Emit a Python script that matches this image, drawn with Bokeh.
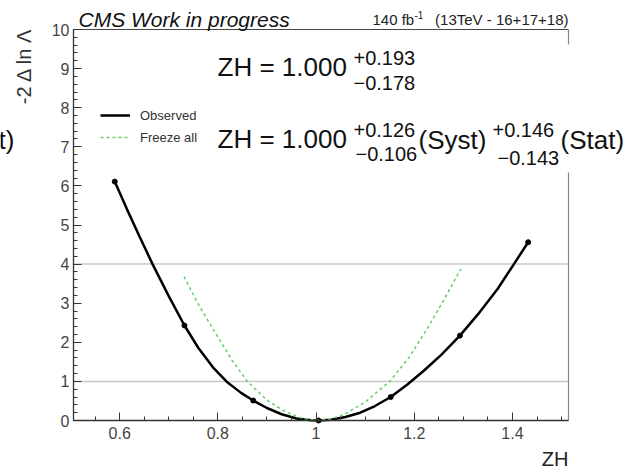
import math
from bokeh.plotting import figure
from bokeh.models import Label, FixedTicker, Legend
from bokeh.embed import file_html
from bokeh.resources import INLINE

# ---------------- data ----------------
scan_x = [0.590, 0.732, 0.872, 1.005, 1.152, 1.293, 1.432]
scan_y = [6.11, 2.43, 0.51, 0.00, 0.60, 2.17, 4.56]

obs_x = [0.590, 0.615, 0.640, 0.667, 0.700, 0.732, 0.760, 0.790, 0.820, 0.848,
         0.872, 0.900, 0.930, 0.960, 0.990, 1.005, 1.030, 1.060, 1.090, 1.120,
         1.152, 1.186, 1.220, 1.255, 1.293, 1.330, 1.370, 1.403, 1.432]
obs_y = [6.11, 5.40, 4.72, 4.00, 3.18, 2.43, 1.86, 1.36, 0.97, 0.70,
         0.51, 0.32, 0.16, 0.05, 0.005, 0.00, 0.02, 0.09, 0.20, 0.37,
         0.60, 0.92, 1.28, 1.68, 2.17, 2.72, 3.37, 4.00, 4.56]

frz_x = [0.731, 0.760, 0.792, 0.830, 0.860, 0.900, 0.935, 0.970, 1.000, 1.030,
         1.057, 1.100, 1.150, 1.190, 1.227, 1.260, 1.295]
frz_y = [3.68, 2.98, 2.30, 1.52, 1.00, 0.52, 0.24, 0.06, 0.00, 0.04,
         0.15, 0.47, 1.00, 1.62, 2.36, 3.08, 3.88]

x_ticks = [0.6, 0.8, 1.0, 1.2, 1.4]
x_tick_labels = ["0.6", "0.8", "1", "1.2", "1.4"]
y_ticks = [0, 1, 2, 3, 4, 5, 6, 7, 8, 9, 10]
ref_levels = [1, 4]

# ---------------- geometry (pixel <-> data) ----------------
W, H = 630, 472
AX_L, AX_R, AX_T, AX_B = 73, 568, 29, 420   # visible axes box in pixels
X0 = 0.506          # data x at the left axis
PXU = 491.0         # pixels per unit of x
YPU = 39.1          # pixels per unit of y


def X(px):
    return X0 + (px - AX_L) / PXU


def Y(py):
    return (AX_B - py) / YPU


FONT = "Liberation Sans"

# the frame covers the whole canvas, the axes are pinned at the box edges
p = figure(width=W, height=H, x_range=(X(0), X(W)), y_range=(Y(H), Y(0)),
           output_backend="svg", toolbar_location=None,
           min_border=0, min_border_left=0, min_border_right=0,
           min_border_top=0, min_border_bottom=0)
p.outline_line_color = None
p.xgrid.visible = False
p.ygrid.visible = False
p.background_fill_color = "white"
p.border_fill_color = "white"

XR = X(AX_R)
x_minor = [round(0.55 + 0.05 * i, 2) for i in range(20) if 0.55 + 0.05 * i < XR]
y_minor = [round(0.2 * i, 1) for i in range(51)]

xa = p.xaxis[0]
ya = p.yaxis[0]
xa.fixed_location = 0
ya.fixed_location = X0
xa.bounds = (X0, XR)
ya.bounds = (0, 10)
xa.ticker = FixedTicker(ticks=x_ticks, minor_ticks=x_minor)
xa.major_label_overrides = {t: s for t, s in zip(x_ticks, x_tick_labels)}
ya.ticker = FixedTicker(ticks=y_ticks, minor_ticks=y_minor)

for ax in (xa, ya):
    ax.major_tick_in = 8
    ax.major_tick_out = 0
    ax.minor_tick_in = 4
    ax.minor_tick_out = 0
    ax.axis_line_color = "#333333"
    ax.axis_line_width = 1.3
    ax.major_tick_line_color = "#333333"
    ax.minor_tick_line_color = "#333333"
    ax.major_label_text_font = FONT
    ax.major_label_text_font_size = "16px"
    ax.major_label_text_color = "#444444"
xa.major_label_standoff = 6
ya.major_label_standoff = 4

# reference levels
p.segment(x0=[X0] * len(ref_levels), y0=ref_levels,
          x1=[XR] * len(ref_levels), y1=ref_levels,
          line_color="#c8c8c8", line_width=1.5)

# frame top / right (right edge partly hidden behind the text box)
p.segment(x0=[X0], y0=[10], x1=[XR], y1=[10], line_color="#444444", line_width=1.2)
p.segment(x0=[XR, XR], y0=[10, Y(172)], x1=[XR, XR], y1=[Y(44), 0],
          line_color="#888888", line_width=1.2)

r_obs = p.line(obs_x, obs_y, line_color="black", line_width=2.5)
p.scatter(scan_x, scan_y, size=5, color="black")
r_frz = p.line(frz_x, frz_y, line_color="#66cc66", line_width=1.5, line_dash="3 3")

legend = Legend(items=[("Observed", [r_obs]), ("Freeze all", [r_frz])],
                location=(100, H - 147), border_line_color=None,
                background_fill_alpha=0, padding=0, margin=0, spacing=2,
                glyph_width=30, glyph_height=20, label_standoff=10,
                label_text_font=FONT, label_text_font_size="13px",
                label_text_color="#333333")
p.add_layout(legend)


def lab(text, px, py, size, align="left", style="normal", color="#111111", angle=0.0):
    # (px, py): pixel position of the text's left/right end and vertical middle
    p.add_layout(Label(x=X(px), y=Y(py), text=text, text_font=FONT,
                       text_font_size=f"{size}px", text_align=align,
                       text_baseline="middle", text_font_style=style,
                       text_color=color, angle=angle))


# headers
lab("CMS Work in progress", 78, 19, 21, style="italic")
lab("140 fb", 372, 19, 15, color="#222222")
lab("-1", 414, 14, 10, color="#222222")
lab("(13TeV - 16+17+18)", 568, 19, 15, align="right", color="#222222")

# result text block
lab("ZH = 1.000", 217, 66, 26)
lab("+0.193", 353, 57, 20)
lab("\u22120.178", 353, 82, 20)

lab("ZH = 1.000", 217, 138, 26)
lab("+0.126", 353, 129, 20)
lab("\u22120.106", 355, 153, 20)
lab("(Syst)", 418, 139, 26)
lab("+0.146", 492, 129, 20)
lab("\u22120.143", 497, 157, 20)
lab("(Stat)", 560, 139, 26)
lab("t)", 14, 139, 26, align="right")

# axis titles
lab("-2 \u0394 ln \u039b", 23, 27, 20, align="right", color="#333333", angle=math.pi / 2)
lab("ZH", 568, 458, 20, align="right", color="#222222")

open("out.html", "w", encoding="utf-8").write(file_html(p, INLINE))
